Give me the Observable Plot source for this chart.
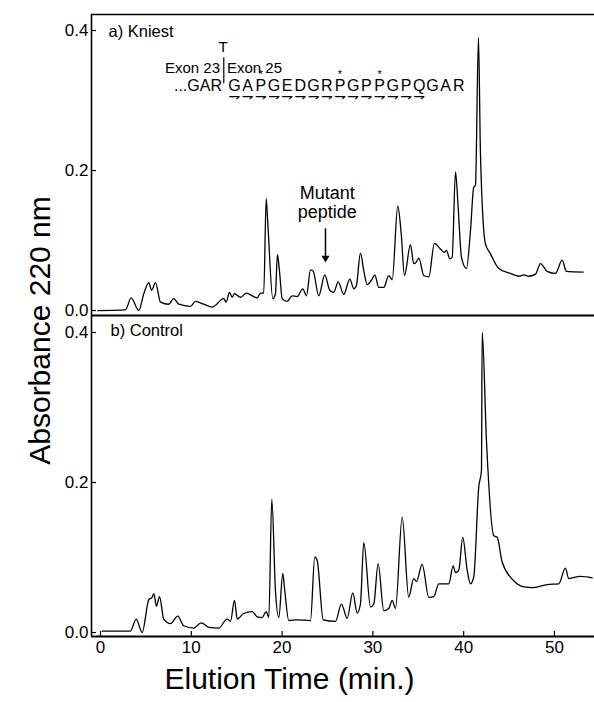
<!DOCTYPE html>
<html><head><meta charset="utf-8">
<script src="https://cdn.jsdelivr.net/npm/d3@7"></script>
<script src="https://cdn.jsdelivr.net/npm/@observablehq/plot@0.6"></script>
<style>
body{margin:0;background:#fff;}
#chart{position:relative;width:594px;height:702px;overflow:hidden;background:#fff;}
#chart svg{position:absolute;left:0;top:0;overflow:visible;}
</style></head><body><div id="chart"></div>
<script>
// ---- data ----
const kniestTime = [-0.30,2.75,3.38,4.22,4.77,5.32,5.62,6.06,6.61,7.52,
  8.07,8.62,9.91,10.46,11.38,12.30,13.58,13.84,14.21,14.50,
  14.76,15.42,16.08,16.71,17.26,17.62,17.98,18.25,18.43,18.98,
  19.27,19.49,19.71,20.01,20.56,21.11,21.66,22.28,22.69,23.13,
  23.43,24.04,24.70,25.25,25.69,26.18,26.79,27.46,27.90,28.19,
  28.63,29.00,29.37,29.92,30.21,30.65,31.20,31.75,32.13,32.74,
  33.12,33.48,34.14,34.50,34.77,35.06,35.61,36.16,36.78,37.44,
  37.89,38.11,38.47,38.73,39.10,39.39,39.76,40.31,40.75,41.11,
  41.30,41.63,41.85,42.40,42.95,43.87,45.15,46.07,46.62,47.17,
  47.91,48.46,49.20,50.11,50.85,51.32,53.16];
const kniestAbs = [0.000,0.001,0.018,0.000,0.024,0.040,0.029,0.040,0.012,0.009,
  0.017,0.009,0.006,0.013,0.009,0.005,0.017,0.012,0.026,0.019,
  0.024,0.019,0.025,0.021,0.018,0.025,0.025,0.160,0.124,0.017,
  0.024,0.080,0.057,0.017,0.013,0.021,0.020,0.031,0.021,0.058,
  0.056,0.021,0.051,0.029,0.026,0.041,0.023,0.045,0.031,0.036,
  0.082,0.057,0.037,0.045,0.051,0.033,0.033,0.050,0.044,0.149,
  0.110,0.050,0.094,0.067,0.069,0.075,0.050,0.048,0.096,0.088,
  0.083,0.086,0.074,0.076,0.198,0.148,0.076,0.060,0.114,0.176,
  0.179,0.390,0.224,0.095,0.081,0.060,0.053,0.049,0.051,0.049,
  0.052,0.067,0.056,0.053,0.072,0.056,0.055];
const controlTime = [0.19,3.30,3.93,4.59,5.32,5.69,5.87,6.17,6.50,6.97,
  7.71,8.51,9.17,10.28,11.09,11.93,13.03,13.95,14.32,14.76,
  15.06,15.72,16.71,17.26,17.81,18.25,18.54,18.87,19.27,19.64,
  20.08,20.26,20.74,21.66,23.13,23.60,23.87,24.53,25.88,26.54,
  27.17,27.79,28.27,28.63,29.00,29.74,30.10,30.58,31.20,31.75,
  32.13,32.49,33.23,33.95,34.50,34.80,35.43,36.16,36.71,37.26,
  38.36,38.84,39.10,39.46,39.90,40.39,40.75,41.11,41.66,41.96,
  42.04,42.51,43.32,43.69,44.24,45.52,46.62,47.72,49.20,50.47,
  51.21,51.57,52.86,54.15];
const controlAbs = [0.002,0.002,0.018,0.000,0.044,0.047,0.052,0.035,0.048,0.018,
  0.012,0.022,0.009,0.006,0.013,0.007,0.006,0.018,0.015,0.043,
  0.018,0.025,0.028,0.021,0.020,0.028,0.020,0.178,0.056,0.020,
  0.079,0.060,0.016,0.017,0.016,0.101,0.096,0.017,0.015,0.038,
  0.019,0.053,0.026,0.038,0.120,0.034,0.038,0.092,0.029,0.032,
  0.043,0.032,0.154,0.047,0.072,0.068,0.091,0.047,0.048,0.065,
  0.065,0.089,0.080,0.083,0.127,0.083,0.065,0.074,0.194,0.216,
  0.400,0.256,0.129,0.127,0.094,0.069,0.061,0.060,0.064,0.065,
  0.086,0.072,0.075,0.073];
const yTicks = [0, 0.2, 0.4];
const xTicks = [0, 10, 20, 30, 40, 50];
const panelLabels = ["a) Kniest", "b) Control"];
const xLabel = "Elution Time (min.)";
const yLabel = "Absorbance 220 nm";
const sequence = "GAPGEDGRPGPPGPQGAR";
const starred = [2, 8, 11];      // residues marked with *
const sequencedCount = 15;       // residues underlined with harpoons
const precedingSeq = "...GAR";
const exonLabels = ["Exon 23", "Exon 25"];
const mutationLabel = "T";
const mutantLabel = "Mutant\npeptide";

// ---- layout ----
const font = "'Liberation Sans', Arial, Helvetica, sans-serif";
const W = 594, mL = 91;
const frameW = W - mL;
const xDomain = [-0.99, 54.41];
const yDomA = [-0.0071, 0.4229];
const yDomB = [-0.0053, 0.4227];
const fmt = d3.format(".1f");
const baseStyle = {fontFamily: font, fontSize: "17px", color: "black", background: "transparent", overflow: "visible"};

const kniest = kniestTime.map((t, i) => ({t, a: kniestAbs[i]}));
const control = controlTime.map((t, i) => ({t, a: controlAbs[i]}));

const seqStart = 14.02, seqStep = 1.454;
const letters = sequence.split("").map((c, i) => ({c, i, t: seqStart + seqStep * (i + 0.5)}));

// Panel b (drawn first, covers whole page, holds axis titles)
const hB = 702, mTopB = 315, mBotB = 66;
const frameHB = hB - mTopB - mBotB;
const panelB = Plot.plot({
  width: W, height: hB, marginTop: mTopB, marginBottom: mBotB, marginLeft: mL, marginRight: 0,
  style: baseStyle,
  x: {domain: xDomain, ticks: xTicks, tickSize: 0, tickPadding: 4, label: null},
  y: {domain: yDomB, ticks: yTicks, tickFormat: fmt, tickSize: 0, tickPadding: 3, label: null},
  marks: [
    Plot.ruleY([yDomB[0]], {strokeWidth: 2}),
    Plot.ruleX([xDomain[0]], {strokeWidth: 1.6}),
    Plot.tickY(yTicks, {y: d => d, insetRight: frameW - 5, strokeWidth: 1.2}),
    Plot.tickX(xTicks, {x: d => d, insetTop: frameHB - 5, strokeWidth: 1.2}),
    Plot.line(control, {x: "t", y: "a", strokeWidth: 1.3, curve: "monotone-x"}),
    Plot.text([panelLabels[1]], {x: 1.1, y: 0.4027, text: d => d, textAnchor: "start", fontSize: 16.5}),
    Plot.text([yLabel], {frameAnchor: "top-left", dx: -63, dy: 15, rotate: -90, text: d => d, textAnchor: "middle", fontSize: 30}),
    Plot.text([xLabel], {frameAnchor: "bottom-left", dx: 198, dy: 52, text: d => d, textAnchor: "middle", fontSize: 30})
  ]
});

// Panel a
const hA = 330, mTopA = 14, mBotA = 15;
const panelA = Plot.plot({
  width: W, height: hA, marginTop: mTopA, marginBottom: mBotA, marginLeft: mL, marginRight: 0,
  style: baseStyle,
  x: {domain: xDomain, axis: null},
  y: {domain: yDomA, ticks: yTicks, tickFormat: fmt, tickSize: 0, tickPadding: 3, label: null},
  marks: [
    Plot.ruleY([yDomA[0]], {strokeWidth: 2}),
    Plot.ruleY([yDomA[1]], {strokeWidth: 1.5}),
    Plot.ruleX([xDomain[0]], {strokeWidth: 1.6}),
    Plot.tickY(yTicks, {y: d => d, insetRight: frameW - 5, strokeWidth: 1.2}),
    Plot.line(kniest, {x: "t", y: "a", strokeWidth: 1.3, curve: "monotone-x"}),
    Plot.text([panelLabels[0]], {x: 0.88, y: 0.399, text: d => d, textAnchor: "start", fontSize: 16.5}),
    Plot.text([mutationLabel], {x: 13.51, y: 0.376, text: d => d, fontSize: 15}),
    Plot.ruleX([13.58], {y1: 0.324, y2: 0.361, strokeWidth: 1.2}),
    Plot.text([exonLabels[0]], {x: 13.16, y: 0.346, text: d => d, textAnchor: "end", fontSize: 15}),
    Plot.text([exonLabels[1]], {x: 13.93, y: 0.346, text: d => d, textAnchor: "start", fontSize: 15}),
    Plot.text([precedingSeq], {x: 13.38, y: 0.3214, text: d => d, textAnchor: "end", fontSize: 16}),
    Plot.text(letters, {x: "t", y: 0.3214, text: "c", fontSize: 16}),
    Plot.text(letters.filter(d => starred.includes(d.i)), {x: "t", y: 0.3375, text: () => "*", fontSize: 11}),
    Plot.text(letters.filter(d => d.i < sequencedCount), {x: "t", y: 0.3055, text: () => "\u21C1", fontSize: 14, fontFamily: "DejaVu Sans"}),
    Plot.text([mutantLabel], {x: 24.97, y: 0.154, text: d => d, fontSize: 18, lineHeight: 1.02}),
    Plot.ruleX([24.78], {y1: 0.1167, y2: 0.0751, strokeWidth: 1.5}),
    Plot.dot([24.78], {x: d => d, y: 0.0751, symbol: "triangle", r: 3, fill: "black", stroke: null, rotate: 180})
  ]
});

const chart = document.getElementById("chart");
chart.appendChild(panelB);
chart.appendChild(panelA);
</script></body></html>
